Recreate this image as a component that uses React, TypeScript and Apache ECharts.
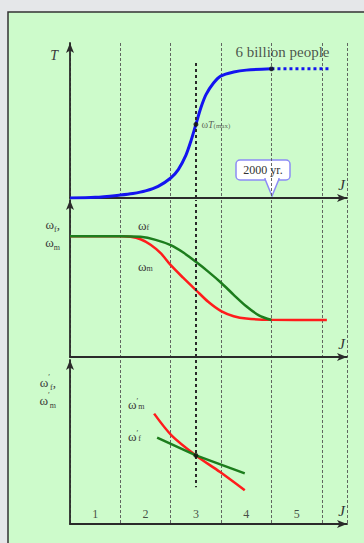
import React, { useEffect, useRef } from "react";
import * as echarts from "echarts";

// Top panel: population T versus J
const tJ = [0, 0.5, 1, 1.25, 1.5, 1.75, 2, 2.15, 2.3, 2.4, 2.5, 2.6, 2.7, 2.85, 3, 3.25, 3.5, 4];
const tVal = [0, 0.005, 0.023, 0.035, 0.055, 0.09, 0.155, 0.22, 0.33, 0.44, 0.57, 0.7, 0.8, 0.89, 0.945, 0.975, 0.99, 1.0];
const tFutureJ = [4, 5.16];
const tFutureVal = [1, 1];
const tMarksJ = [2.5, 4];
const tMarksVal = [0.57, 1];

// Middle panel: ωf and ωm
const wfJ = [0, 1, 1.4, 1.7, 2, 2.25, 2.5, 2.75, 3, 3.25, 3.5, 3.75, 4];
const wfVal = [1, 1, 0.995, 0.97, 0.926, 0.865, 0.788, 0.705, 0.615, 0.515, 0.42, 0.345, 0.306];
const wmJ = [0, 1, 1.2, 1.4, 1.6, 1.8, 2, 2.25, 2.5, 2.75, 3, 3.25, 3.5, 4, 5.1];
const wmVal = [1, 1, 0.995, 0.975, 0.93, 0.86, 0.76, 0.655, 0.554, 0.455, 0.38, 0.338, 0.318, 0.308, 0.306];

// Bottom panel: derivatives
const dwmJ = [1.67, 2.02, 2.5, 2.98, 3.47];
const dwmVal = [0.673, 0.539, 0.418, 0.317, 0.206];
const dwfJ = [1.73, 2.5, 3.47];
const dwfVal = [0.527, 0.418, 0.309];
const crossJ = [2.5];
const crossVal = [0.418];

// Stage numbers along J
const stageLabels = ["1", "2", "3", "4", "5"];
const stageJ = [0.5, 1.5, 2.5, 3.5, 4.5];
const stageVal = [0.06, 0.06, 0.06, 0.06, 0.06];

// Vertical dotted line at J = 2.5
const markJ = 2.5;
const markTopT = 1.045;
const markBottomD = 0.224;

const zip = (a: number[], b: number[]) => a.map((x, i) => [x, b[i]]);

const SERIF = "'Liberation Serif', 'DejaVu Serif', serif";
const BLUE = "#1414f0";
const GREEN = "#1d7d1d";
const RED = "#ff1c1c";
const DARK = "#2a2a2a";
const TXT = "#3a3a3a";

export default function App() {
  const ref = useRef<HTMLDivElement>(null);
  useEffect(() => {
    if (!ref.current) return;
    const chart = echarts.init(ref.current, undefined, { renderer: "svg" });

    const xAxisBase = (gi: number) => ({
      type: "value" as const,
      gridIndex: gi,
      min: 0,
      max: 5.5,
      interval: 1,
      axisLabel: { show: false },
      axisTick: { show: false },
      axisLine: {
        show: true,
        symbol: ["none", "arrow"],
        symbolSize: [6, 10],
        lineStyle: { color: DARK, width: 1.8 },
      },
      splitLine: { show: true, lineStyle: { color: "#555", width: 0.9, type: [3, 2] } },
      name: "J",
      nameLocation: "end" as const,
      nameGap: -2,
      nameTextStyle: {
        fontFamily: SERIF,
        fontStyle: "italic",
        fontSize: 15,
        color: "#333",
        align: "right",
        verticalAlign: "bottom",
        padding: [0, 0, 6, 0],
      },
    });

    const richSet = {
      w: { fontFamily: SERIF, fontSize: 13, color: TXT },
      s: { fontFamily: SERIF, fontSize: 8, color: TXT, verticalAlign: "bottom" },
      p: { fontFamily: SERIF, fontSize: 8, color: TXT, verticalAlign: "top" },
      t: { fontFamily: SERIF, fontSize: 14, fontStyle: "italic", color: TXT },
    };

    const yAxisBase = (gi: number, max: number, name: string, gap: number, padRight: number) => ({
      type: "value" as const,
      gridIndex: gi,
      min: 0,
      max,
      axisLabel: { show: false },
      axisTick: { show: false },
      splitLine: { show: false },
      axisLine: {
        show: true,
        symbol: ["none", "arrow"],
        symbolSize: [6, 10],
        lineStyle: { color: DARK, width: 1.8 },
      },
      name,
      nameLocation: "end" as const,
      nameGap: gap,
      nameTextStyle: {
        fontFamily: SERIF,
        fontSize: 13,
        color: TXT,
        align: "right",
        verticalAlign: "top",
        padding: [0, padRight, 0, 0],
        lineHeight: 18,
        rich: richSet,
      },
    });

    const dotted = {
      silent: true,
      symbol: "none",
      label: { show: false },
      lineStyle: { color: DARK, width: 2, type: [3, 3] },
    };

    const labelText = (x: number, y: number, text: string) => ({
      type: "text",
      x,
      y,
      z: 100,
      style: {
        text,
        verticalAlign: "middle",
        rich: {
          w: { font: `13px ${SERIF}`, fill: TXT },
          p: { font: `8px ${SERIF}`, fill: TXT, verticalAlign: "top" },
          s: { font: `8px ${SERIF}`, fill: TXT, verticalAlign: "bottom" },
        },
      },
    });

    const option: any = {
      animation: false,
      backgroundColor: "#e5e7e9",
      grid: [
        { left: 70, top: 43, width: 277, height: 155 },
        { left: 70, top: 200, width: 277, height: 157 },
        { left: 70, top: 360, width: 277, height: 164 },
      ],
      xAxis: [xAxisBase(0), xAxisBase(1), xAxisBase(2)],
      yAxis: [
        yAxisBase(0, 1.2, "{t|T}", -3, 12),
        yAxisBase(1, 1.3, "{w|ω}{s|f},\n{w|ω}{s|m}", -15, 10),
        yAxisBase(2, 1.0, "{w|ω}{p|′}{s|f},\n{w|ω}{p|′}{s|m}", -13, 14),
      ],
      graphic: [
        {
          type: "rect",
          z: -100,
          shape: { x: 8, y: 12, width: 370, height: 545 },
          style: { fill: "#cdfbcb", stroke: "#333", lineWidth: 1.5 },
        },
        {
          type: "group",
          z: 100,
          children: [
            { type: "rect", shape: { x: 236, y: 160, width: 54, height: 20, r: 4 }, style: { fill: "#fff", stroke: "#8c8cf5", lineWidth: 1.5 } },
            { type: "polygon", shape: { points: [[265, 179], [279, 179], [272, 196]] }, style: { fill: "#fff", stroke: "#8c8cf5", lineWidth: 1.5 } },
            { type: "rect", shape: { x: 266, y: 177, width: 12, height: 3 }, style: { fill: "#fff" } },
            { type: "text", x: 263, y: 170, style: { text: "2000 yr.", font: `12px ${SERIF}`, fill: "#333", align: "center", verticalAlign: "middle" } },
          ],
        },
        labelText(138, 225, "{w|ω}{s|f}"),
        labelText(138, 266, "{w|ω}{s|m}"),
        labelText(128, 404, "{w|ω}{p|′}{s|m}"),
        labelText(128, 436, "{w|ω}{p|′}{s|f}"),
      ],
      series: [
        {
          type: "line",
          xAxisIndex: 0,
          yAxisIndex: 0,
          data: zip(tJ, tVal),
          smooth: 0.3,
          showSymbol: false,
          lineStyle: { color: BLUE, width: 3 },
          markLine: { ...dotted, data: [[{ coord: [markJ, markTopT] }, { coord: [markJ, 0] }]] },
        },
        {
          type: "line",
          xAxisIndex: 0,
          yAxisIndex: 0,
          data: zip(tFutureJ, tFutureVal),
          showSymbol: false,
          lineStyle: { color: BLUE, width: 3, type: [3, 3] },
        },
        {
          type: "scatter",
          xAxisIndex: 0,
          yAxisIndex: 0,
          symbolSize: 5,
          itemStyle: { color: "#111" },
          z: 5,
          data: [
            {
              value: [tMarksJ[0], tMarksVal[0]],
              label: {
                show: true,
                position: "right",
                distance: 3,
                formatter: "{w|ω}{t|T}{m|(max)}",
                rich: {
                  w: { fontFamily: SERIF, fontSize: 10, color: TXT },
                  t: { fontFamily: SERIF, fontSize: 10, fontStyle: "italic", color: TXT, verticalAlign: "bottom" },
                  m: { fontFamily: SERIF, fontSize: 7, color: TXT, verticalAlign: "bottom" },
                },
              },
            },
            {
              value: [tMarksJ[1], tMarksVal[1]],
              label: {
                show: true,
                position: "top",
                distance: 7,
                offset: [11, 0],
                formatter: "6 billion people",
                fontFamily: SERIF,
                fontSize: 15,
                color: "#2a2a2a",
              },
            },
          ],
        },
        {
          type: "line",
          xAxisIndex: 1,
          yAxisIndex: 1,
          data: zip(wmJ, wmVal),
          smooth: 0.3,
          showSymbol: false,
          lineStyle: { color: RED, width: 2.5 },
          markLine: { ...dotted, data: [[{ coord: [markJ, 0] }, { coord: [markJ, 1.3] }]] },
        },
        {
          type: "line",
          xAxisIndex: 1,
          yAxisIndex: 1,
          data: zip(wfJ, wfVal),
          smooth: 0.3,
          showSymbol: false,
          lineStyle: { color: GREEN, width: 2.5 },
        },
        {
          type: "line",
          xAxisIndex: 2,
          yAxisIndex: 2,
          data: zip(dwmJ, dwmVal),
          smooth: 0.3,
          showSymbol: false,
          lineStyle: { color: RED, width: 2.5 },
          markLine: { ...dotted, data: [[{ coord: [markJ, 1.0] }, { coord: [markJ, markBottomD] }]] },
        },
        {
          type: "line",
          xAxisIndex: 2,
          yAxisIndex: 2,
          data: zip(dwfJ, dwfVal),
          showSymbol: false,
          lineStyle: { color: GREEN, width: 2.5 },
        },
        {
          type: "scatter",
          xAxisIndex: 2,
          yAxisIndex: 2,
          symbolSize: 5,
          itemStyle: { color: "#111" },
          z: 5,
          data: zip(crossJ, crossVal),
        },
        {
          type: "scatter",
          xAxisIndex: 2,
          yAxisIndex: 2,
          symbolSize: 1,
          itemStyle: { color: "transparent" },
          data: stageJ.map((j, i) => ({ value: [j, stageVal[i]], name: stageLabels[i] })),
          label: {
            show: true,
            position: "inside",
            formatter: (p: any) => p.name,
            fontFamily: SERIF,
            fontSize: 12,
            color: "#222",
          },
        },
      ],
    };

    chart.setOption(option);
    return () => chart.dispose();
  }, []);

  return (
    <div
      ref={ref}
      style={{ position: "absolute", left: 0, top: 0, width: 364, height: 543 }}
    />
  );
}
